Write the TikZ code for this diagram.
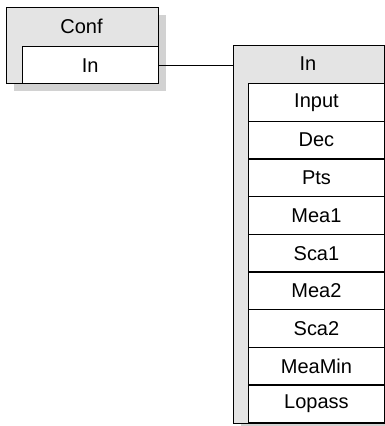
\documentclass[tikz,border=0pt]{standalone}
\usepackage{fontspec}
\setmainfont{Liberation Sans}
\usetikzlibrary{shadows}
\definecolor{panelgray}{HTML}{E4E4E4}
\definecolor{shadowgray}{HTML}{D2D2D2}
\tikzset{
  base/.style={rectangle, draw=black, line width=1.4pt, inner sep=0pt, anchor=north west,
    font=\fontsize{20}{24}\selectfont},
  shadowed/.style={general shadow={fill=shadowgray, shadow xshift=7.5pt, shadow yshift=-7.5pt}},
  panel/.style={base, fill=panelgray, shadowed},
  cell/.style={base, fill=white, minimum width=135.5pt, minimum height=37.67pt},
  caption/.style={inner sep=0pt, font=\fontsize{20}{24}\selectfont},
  link/.style={line width=1.4pt}
}
\begin{document}
\begin{tikzpicture}[x=1pt, y=-1pt]
\useasboundingbox (0,0) rectangle (385,426);

% configuration block
\node[panel, minimum width=152pt, minimum height=76pt] (conf) at (5.5,7) {};
\node[caption] (conftitle) at (81.5,26.5) {Conf};
\node[base, fill=white, minimum width=136pt, minimum height=37pt] (confin) at (21.5,46) {In};

% input parameter list
\node[panel, minimum width=151pt, minimum height=378pt] (inbox) at (232.5,44.5) {};
\node[caption] (intitle) at (308,64) {In};
\foreach \name [count=\i from 0] in {Input,Dec,Pts,Mea1,Sca1,Mea2,Sca2,MeaMin,Lopass}
  \node[cell] (row\i) at (248,83+37.67*\i) {\name};

% connector
\draw[link] (confin.east) -- (confin.east -| inbox.west);
\end{tikzpicture}
\end{document}
